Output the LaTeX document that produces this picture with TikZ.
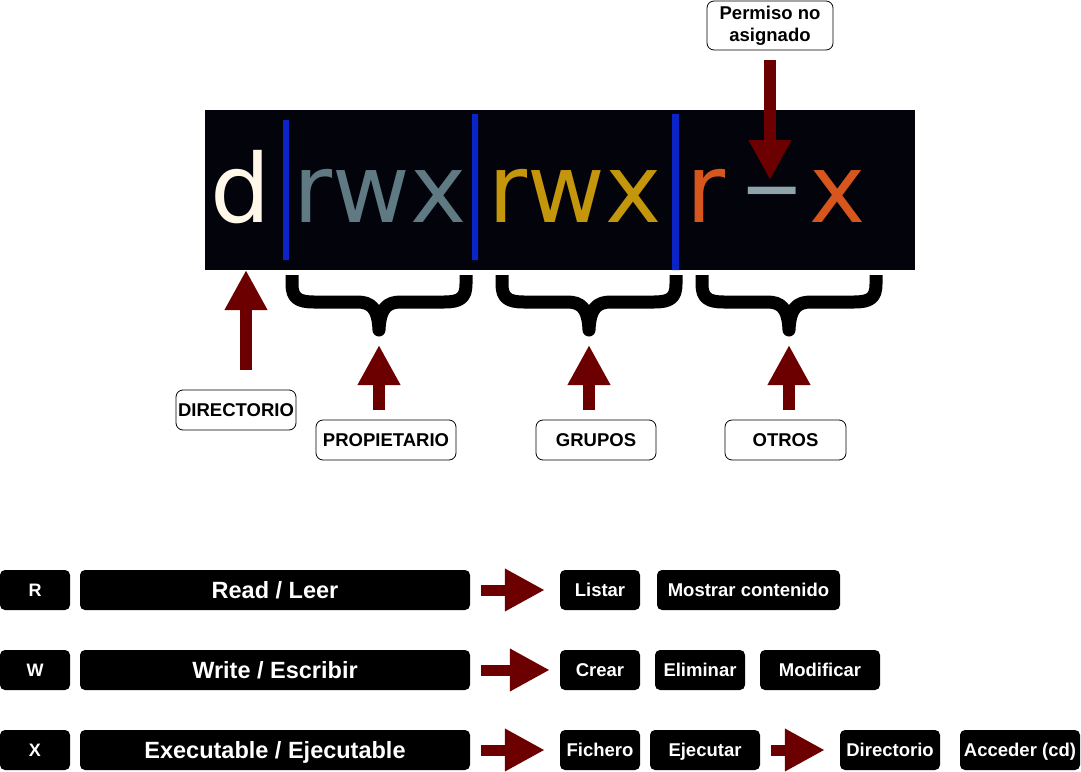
\documentclass[tikz,border=0pt]{standalone}
\usepackage{fontspec}
\setmainfont{Liberation Sans}
\newfontfamily\termfont{DejaVu Sans}
\usetikzlibrary{arrows.meta,positioning}

\definecolor{flecha}{RGB}{108,0,0}
\definecolor{fondo}{RGB}{3,3,12}
\definecolor{barra}{RGB}{10,36,200}
\definecolor{dcol}{RGB}{255,247,232}
\definecolor{ucol}{RGB}{95,122,130}
\definecolor{gcol}{RGB}{196,150,12}
\definecolor{ocol}{RGB}{214,86,30}
\definecolor{nocol}{RGB}{143,163,170}

\tikzset{
	tagbox/.style={draw=black,fill=white,rounded corners=7pt,line width=0.8pt,inner sep=0pt,minimum height=40pt,font=\bfseries\fontsize{18.5}{22}\selectfont},
	permbox/.style={fill=black,text=white,rounded corners=5pt,inner sep=0pt,minimum height=40pt,text height=13.5pt,text depth=0pt,font=\bfseries\fontsize{18.5}{22}\selectfont},
	bigbox/.style={permbox,minimum width=390pt,text height=17pt,font=\bfseries\fontsize{23.5}{26}\selectfont},
	letbox/.style={permbox,minimum width=70pt,text height=13pt,font=\bfseries\fontsize{18}{20}\selectfont},
	bigarrow/.style={draw=flecha,line width=12pt,-{Triangle[length=40pt,width=40pt]}},
	sidearrow/.style={bigarrow,line width=11pt,shorten <=11pt},
	term/.style={anchor=base,inner sep=0pt,font=\termfont\fontsize{95}{95}\selectfont},
}

\begin{document}
\begin{tikzpicture}[x=1pt,y=-1pt]
	\useasboundingbox (0,0) rectangle (1081,771);
	\fill[fondo] (205,110) rectangle (915,270);
	\node[term,text=dcol] (d) at (241,222) {d};
	\node[term,text=ucol] (u) at (380,222) {rwx};
	\node[term,text=gcol] (g) at (575,222) {rwx};
	\node[term,text=ocol] (or) at (706,222) {r};
	\node[term,text=nocol] (on) at (772,219) {\scalebox{1.25}[1.1]{–}};
	\node[term,text=ocol] (ox) at (838,222) {x};
	\fill[barra] (283,120) rectangle (289,260) (472,114) rectangle (478,260) (672,114) rectangle (679,270);

	\foreach \a/\b [count=\i] in {292/466,502/676,702/876}
		{
		\pgfmathsetmacro\m{(\a+\b)/2}
		\draw[line width=13pt,line join=round] (\a,275)--(\a,284) .. controls (\a,298) and (\a+6,302) .. (\a+22,302)--(\m-22,302) .. controls (\m-8,302) and (\m-1,308) .. (\m,330) .. controls (\m+1,308) and (\m+8,302) .. (\m+22,302)--(\b-22,302) .. controls (\b-6,302) and (\b,298) .. (\b,284)--(\b,275);
		\coordinate (brace\i) at (\m,345);
		}

	\node[tagbox,minimum width=126pt,minimum height=49pt,align=center] (noasig) at (770,25.5) {Permiso no\\asignado};
	\node[tagbox,minimum width=120pt] (dir) at (236,410) {DIRECTORIO};
	\node[tagbox,minimum width=140pt] (prop) at (386,440) {PROPIETARIO};
	\node[tagbox,minimum width=120pt] (grp) at (596,440) {GRUPOS};
	\node[tagbox,minimum width=121pt] (otros) at (785.5,440) {OTROS};
	\coordinate (dtip) at (246,270);
	\coordinate (notip) at (770,180);
	\draw[bigarrow,shorten <=10pt] (noasig) -- (notip);
	\draw[bigarrow,shorten <=20pt] (dtip |- dir.north) -- (dtip);
	\draw[bigarrow,shorten <=10pt] (brace1 |- prop.north) -- (brace1);
	\draw[bigarrow,shorten <=10pt] (brace2 |- grp.north) -- (brace2);
	\draw[bigarrow,shorten <=10pt] (brace3 |- otros.north) -- (brace3);

	\node[letbox] (r) at (35,590) {R};
	\node[bigbox] (read) at (275,590) {Read / Leer};
	\node[permbox,minimum width=80pt] (listar) at (600,590) {Listar};
	\node[permbox,minimum width=183pt] (mostrar) at (748.5,590) {Mostrar contenido};

	\node[letbox] (w) at (35,670) {W};
	\node[bigbox] (write) at (275,670) {Write / Escribir};
	\node[permbox,minimum width=80pt] (crear) at (600,670) {Crear};
	\node[permbox,minimum width=90pt] (eliminar) at (700,670) {Eliminar};
	\node[permbox,minimum width=120pt] (modificar) at (820,670) {Modificar};

	\node[letbox] (x) at (35,750) {X};
	\node[bigbox] (exec) at (275,750) {Executable / Ejecutable};
	\node[permbox,minimum width=80pt] (fichero) at (600,750) {Fichero};
	\node[permbox,minimum width=110pt] (ejecutar) at (705,750) {Ejecutar};
	\node[permbox,minimum width=100pt] (directorio) at (890,750) {Directorio};
	\node[permbox,minimum width=120pt] (acceder) at (1020,750) {Acceder (cd)};

	\draw[sidearrow,shorten >=15pt] (read) -- (listar);
	\draw[sidearrow,shorten >=10pt] (write) -- (crear);
	\draw[sidearrow,shorten >=15pt] (exec) -- (fichero);
	\draw[sidearrow,shorten >=15pt] (ejecutar) -- (directorio);
\end{tikzpicture}
\end{document}
